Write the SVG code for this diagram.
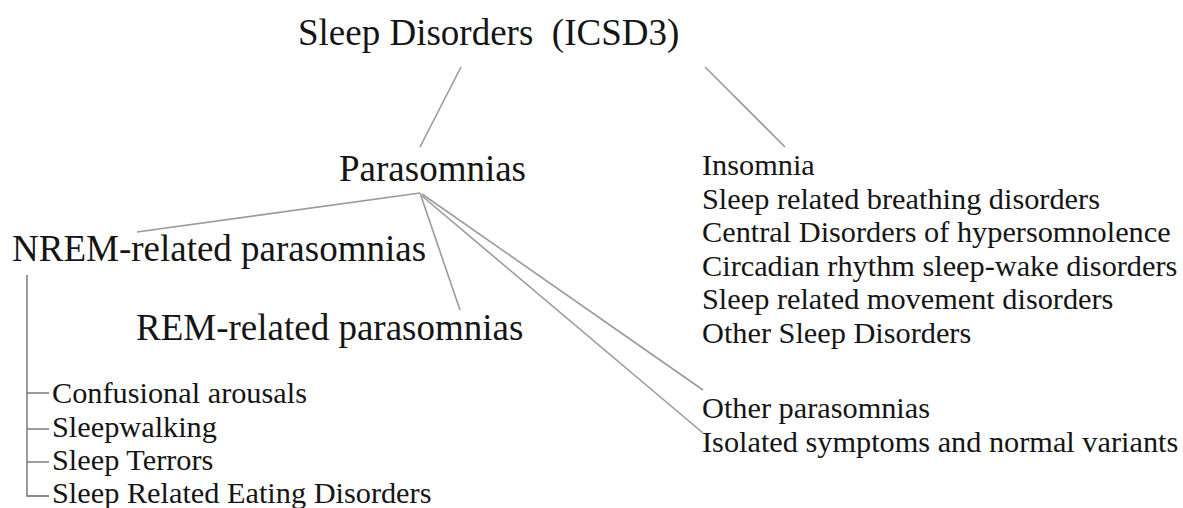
<svg xmlns="http://www.w3.org/2000/svg" width="1183" height="508" viewBox="0 0 1183 508">
<style>
text{font-family:"Liberation Serif","Times New Roman",serif;fill:#151515;white-space:pre}
.big{font-size:37px}
.mid{font-size:37px}
.sm{font-size:30.3px}
.c line{stroke:#9a9a9a;stroke-width:1.6;fill:none}
.t line,.t polyline{stroke:#666;stroke-width:1.3;fill:none}
</style>
<rect width="1183" height="508" fill="#fff"/>
<g id="connectors" class="c">
<line x1="461" y1="67" x2="420" y2="147"/>
<line x1="705" y1="67" x2="785" y2="147"/>
<line x1="137" y1="232" x2="420" y2="193"/>
<line x1="420" y1="193" x2="460" y2="310"/>
<line x1="422" y1="194" x2="703" y2="390"/>
<line x1="422" y1="196" x2="703" y2="433"/>
</g>
<g id="root"><text class="big" x="298" y="45">Sleep Disorders  (ICSD3)</text></g>
<g id="parasomnias"><text class="big" x="339" y="181">Parasomnias</text></g>
<g id="others" class="sm">
<text x="702" y="175">Insomnia</text>
<text x="702" y="208.5">Sleep related breathing disorders</text>
<text x="702" y="242">Central Disorders of hypersomnolence</text>
<text x="702" y="275.5">Circadian rhythm sleep-wake disorders</text>
<text x="702" y="309">Sleep related movement disorders</text>
<text x="702" y="342.5">Other Sleep Disorders</text>
</g>
<g id="nrem"><text class="mid" x="12" y="261">NREM-related parasomnias</text></g>
<g id="rem"><text class="mid" x="136" y="340">REM-related parasomnias</text></g>
<g id="other-parasomnias"><text class="sm" x="702" y="418">Other parasomnias</text></g>
<g id="isolated"><text class="sm" x="702" y="452">Isolated symptoms and normal variants</text></g>
<g id="nrem-tree" class="t">
<polyline points="27,275 27,496 49,496"/>
<line x1="27" y1="393" x2="49" y2="393"/>
<line x1="27" y1="429" x2="49" y2="429"/>
<line x1="27" y1="462" x2="49" y2="462"/>
</g>
<g id="nrem-items" class="sm">
<text x="52" y="403">Confusional arousals</text>
<text x="52" y="437">Sleepwalking</text>
<text x="52" y="470">Sleep Terrors</text>
<text x="52" y="503">Sleep Related Eating Disorders</text>
</g>
</svg>
